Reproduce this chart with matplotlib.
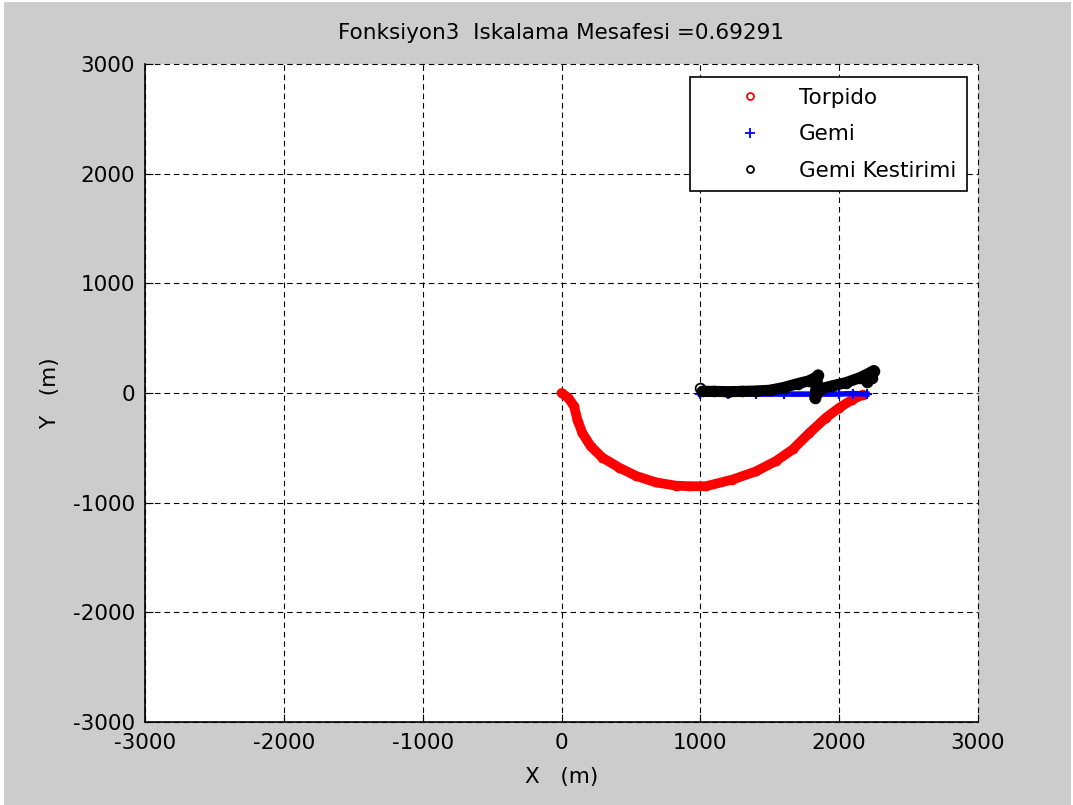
import matplotlib
matplotlib.use("Agg")
import matplotlib.pyplot as plt
from matplotlib.lines import Line2D
from matplotlib.patches import Rectangle

plt.rcParams['font.family'] = ['DejaVu Sans']
plt.rcParams['axes.unicode_minus'] = False

# Torpido path (red)
torp_x = [0, 50, 90, 115, 150, 210, 295, 415, 535, 680, 825, 920, 1040,
          1230, 1400, 1545, 1665, 1785, 1905, 2000, 2095, 2170]
torp_y = [0, -45, -120, -245, -365, -485, -590, -680, -755, -815, -845, -850, -850,
          -790, -715, -620, -515, -365, -225, -135, -60, -15]

# Gemi path (blue)
gemi_x = [1000, 1200, 1400, 1600, 1800, 2000, 2100, 2200]
gemi_y = [-10, -10, -10, -10, -10, -10, -5, -10]

# Gemi Kestirimi (black)
est_x = [995, 1015, 1100, 1200, 1300, 1400, 1500, 1600, 1700, 1780, 1830, 1848,
         1835, 1825, 1870, 1950, 2050, 2150, 2230, 2250, 2235, 2200]
est_y = [45, 15, 15, 12, 15, 18, 25, 50, 85, 110, 140, 165,
         60, -45, 40, 65, 95, 140, 190, 205, 140, 100]

title_text = "Fonksiyon3  Iskalama Mesafesi =0.69291"
ticks = [-3000, -2000, -1000, 0, 1000, 2000, 3000]
legend_labels = ["Torpido", "Gemi", "Gemi Kestirimi"]

W, H = 1073, 805
fs = 15.5
fig = plt.figure(figsize=(W / 100, H / 100), dpi=100, facecolor='white')
fig.add_artist(Rectangle((4 / W, 0), (W - 6) / W, (H - 2) / H,
                         transform=fig.transFigure, facecolor='#cccccc',
                         edgecolor='none', zorder=-10))

ax = fig.add_axes([145 / W, 1 - 722 / H, (978 - 145) / W, (722 - 64) / H])
ax.set_facecolor('white')

# red torpedo
ax.plot(torp_x, torp_y, '-', color='red', lw=7, solid_capstyle='round',
        solid_joinstyle='round', zorder=3)
ax.plot(torp_x, torp_y, 'o', color='red', ms=7, mew=0, zorder=3)
# blue ship
ax.plot(gemi_x, gemi_y, '-', color='blue', lw=4, zorder=4)
ax.plot(gemi_x, gemi_y, '+', color='blue', ms=7, mew=1.5, zorder=4)
# black estimate
ax.plot(est_x[1:], est_y[1:], '-', color='black', lw=8, solid_capstyle='round',
        solid_joinstyle='round', zorder=5)
ax.plot(est_x, est_y, 'o', color='black', mfc='none', ms=7, mew=1.3, zorder=6)

ax.set_xlim(-3000, 3000)
ax.set_ylim(-3000, 3000)
ax.set_xticks(ticks)
ax.set_yticks(ticks)
ax.tick_params(direction='in', length=6, width=0.8, labelsize=fs,
               top=False, right=False)
ax.tick_params(axis='x', pad=8)
ax.tick_params(axis='y', pad=7)

ax.grid(True, color='black', lw=0.8, linestyle=(0, (5, 3.5)))
for gl in ax.get_xgridlines() + ax.get_ygridlines():
    gl.set_clip_on(False)
ax.set_axisbelow(True)

ax.spines['top'].set_visible(False)
ax.spines['right'].set_visible(False)
ax.spines['left'].set_linewidth(1.2)
ax.spines['bottom'].set_linewidth(1.2)

ax.set_title(title_text, fontsize=fs, pad=18)
ax.set_xlabel("X   (m)", fontsize=fs, labelpad=10)
ax.set_ylabel("Y   (m)", fontsize=fs, labelpad=9)

handles = [
    Line2D([], [], ls='none', marker='o', color='red', mfc='none', ms=5, mew=1.3),
    Line2D([], [], ls='none', marker='+', color='blue', ms=7, mew=1.3),
    Line2D([], [], ls='none', marker='o', color='black', mfc='none', ms=5, mew=1.3),
]
leg = ax.legend(handles, legend_labels, loc='upper right',
                bbox_to_anchor=(0.987, 0.980), borderaxespad=0,
                fontsize=fs, frameon=True, fancybox=False,
                handlelength=4.5, handletextpad=0.05, borderpad=0.5,
                labelspacing=0.76)
leg.get_frame().set_edgecolor('black')
leg.get_frame().set_linewidth(1.2)
leg.get_frame().set_alpha(1)
leg.set_zorder(10)

fig.savefig('out.png', dpi=100, facecolor=fig.get_facecolor())
